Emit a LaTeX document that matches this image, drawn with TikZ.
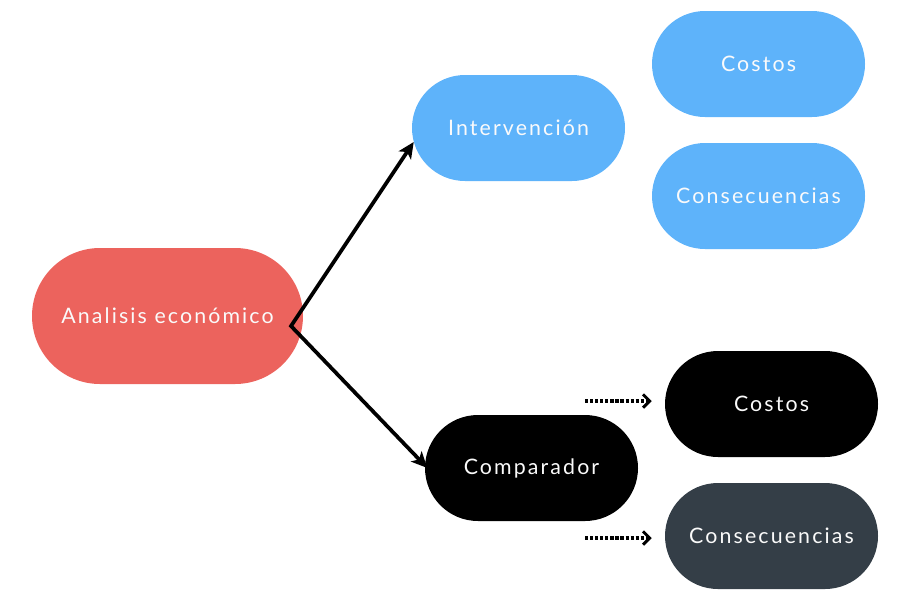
\documentclass[tikz,border=0pt]{standalone}
\usepackage{fontspec}
\setmainfont{Lato}[LetterSpace=10]
\usetikzlibrary{arrows.meta}
\definecolor{redc}{HTML}{EC635D}
\definecolor{bluec}{HTML}{5EB3FA}
\definecolor{darkc}{HTML}{343E47}
\definecolor{txt}{HTML}{FAFAFA}
\begin{document}
\begin{tikzpicture}[x=0.75pt,y=-0.75pt,
  pill/.style={rounded corners=39.75pt,minimum width=159.75pt,minimum height=79.5pt,inner sep=0pt,text=txt,font=\fontsize{16}{18}\selectfont},
  bigpill/.style={pill,rounded corners=51pt,minimum width=203.25pt,minimum height=102pt},
  conn/.style={line width=2.8pt,line join=miter,{Stealth[length=12pt,width=11pt,inset=3pt]}-{Stealth[length=12pt,width=11pt,inset=3pt]}},
  dotconn/.style={line width=2.8pt,dash pattern=on 2.4pt off 1.4pt,-{Straight Barb[length=5pt,width=10pt,line width=2.2pt]}}]
\useasboundingbox (0,0) rectangle (912,604);
\node[bigpill,fill=redc] (ae) at (167.5,316) {Analisis económico};
\node[pill,fill=bluec] (int) at (518.5,128) {Intervención};
\node[pill,fill=bluec] (c1) at (758.5,64) {Costos};
\node[pill,fill=bluec] (s1) at (758.5,196) {Consecuencias};
\node[pill,fill=black] (comp) at (531.5,468) {Comparador};
\node[pill,fill=black] (c2) at (771.5,404) {Costos};
\node[pill,fill=darkc] (s2) at (771.5,536) {Consecuencias};
\coordinate (aout) at (291,326);
\coordinate (d1) at (585,401);
\coordinate (d2) at (585,538);
\draw[conn] ([xshift=1.5pt,yshift=-10.5pt]int.west) -- (aout) -- ([xshift=2pt,yshift=0pt]comp.west);
\draw[dotconn] (d1) -- ([xshift=-9.75pt,yshift=2.25pt]c2.west);
\draw[dotconn] (d2) -- ([xshift=-9.75pt,yshift=-1.5pt]s2.west);
\end{tikzpicture}
\end{document}
